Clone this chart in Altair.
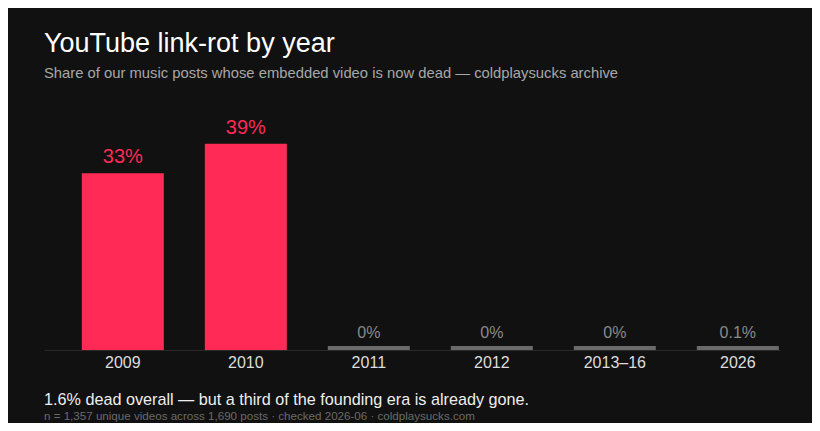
import altair as alt
import pandas as pd

years = ["2009", "2010", "2011", "2012", "2013–16", "2026"]
dead_pct = [33.4, 39.0, 0.0, 0.0, 0.0, 0.1]
pct_labels = ["33%", "39%", "0%", "0%", "0%", "0.1%"]

title_text = "YouTube link-rot by year"
subtitle_text = "Share of our music posts whose embedded video is now dead — coldplaysucks archive"
footer_text = "1.6% dead overall — but a third of the founding era is already gone."
note_text = "n = 1,357 unique videos across 1,690 posts · checked 2026-06 · coldplaysucks.com"

FONT = "Liberation Sans"
RED = "#ff2a55"
STUB = "#6a6a6a"

df = pd.DataFrame({"year": years, "pct": dead_pct, "label": pct_labels})

W, H = 736, 238

xenc = alt.X(
    "year:N",
    sort=years,
    scale=alt.Scale(paddingInner=1 / 3, paddingOuter=0.1585, align=0.97),
    axis=alt.Axis(
        title=None, labelAngle=0, ticks=False, domainColor="#2a2a2a",
        labelFontSize=16, labelColor="#dddddd", labelFont=FONT, labelPadding=4,
    ),
)
yscale = alt.Scale(domain=[0, 45], nice=False)

base = alt.Chart(df).transform_calculate(shown="max(datum.pct, 0.75)")

bars = base.mark_bar().encode(
    x=xenc,
    y=alt.Y("shown:Q", scale=yscale, axis=None),
    color=alt.condition("datum.pct >= 1", alt.value(RED), alt.value(STUB)),
)

big_labels = base.transform_filter("datum.pct >= 1").mark_text(
    baseline="bottom", dy=-6, fontSize=20, font=FONT, color=RED
).encode(x=alt.X("year:N", sort=years), y=alt.Y("shown:Q", scale=yscale), text="label:N")

small_labels = base.transform_filter("datum.pct < 1").mark_text(
    baseline="bottom", dy=-5, fontSize=16, font=FONT, color="#8a8a8a"
).encode(x=alt.X("year:N", sort=years), y=alt.Y("shown:Q", scale=yscale), text="label:N")

footer = alt.Chart(pd.DataFrame({"t": [footer_text]})).mark_text(
    align="left", baseline="alphabetic", fontSize=16.2, font=FONT, color="#eeeeee"
).encode(x=alt.value(0), y=alt.value(293), text="t:N")

note = alt.Chart(pd.DataFrame({"t": [note_text]})).mark_text(
    align="left", baseline="alphabetic", fontSize=11.6, font=FONT, color="#6a6a6a"
).encode(x=alt.value(0), y=alt.value(308), text="t:N")

chart = alt.layer(bars, big_labels, small_labels, footer, note).properties(
    width=W,
    height=H,
    background="#111111",
    autosize=alt.AutoSizeParams(type="none"),
    padding={"left": 36, "top": 104, "right": 32, "bottom": 73},
    title=alt.TitleParams(
        text=title_text,
        subtitle=subtitle_text,
        anchor="start",
        frame="group",
        font=FONT,
        fontSize=27,
        fontWeight="normal",
        color="#ffffff",
        subtitleFont=FONT,
        subtitleFontSize=14.8,
        subtitleColor="#a8a8a8",
        subtitlePadding=8,
        offset=30,
    ),
).configure_view(stroke=None).configure_axis(grid=False)

chart.save("out.html", embed_options={"renderer": "svg", "actions": False})
